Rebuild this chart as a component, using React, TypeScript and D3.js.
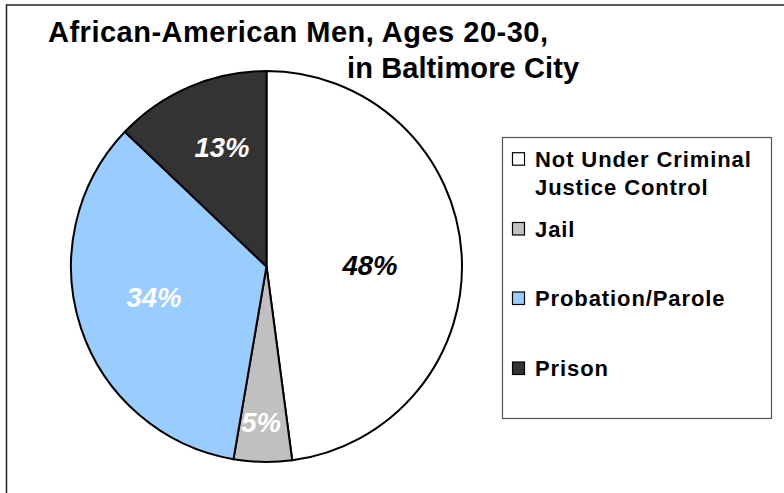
import React from "react";
import * as d3 from "d3";

const categories = ["Not Under Criminal Justice Control", "Jail", "Probation/Parole", "Prison"];
const legendLines = [["Not Under Criminal", "Justice Control"], ["Jail"], ["Probation/Parole"], ["Prison"]];
const values = [47.9, 4.8, 34.4, 12.9];
const labels = ["48%", "5%", "34%", "13%"];
const colors = ["#ffffff", "#c0c0c0", "#99ccff", "#333333"];
const labelColors = ["#000000", "#ffffff", "#ffffff", "#ffffff"];
const titleLines = ["African-American Men, Ages 20-30,", "in Baltimore City"];

export default function App() {
  const W = 784, H = 493;
  const cx = 266.5, cy = 266.5, r = 195.5;
  const pie = d3.pie<number>().sort(null).value((d) => d)(values);
  const arc = d3.arc<d3.PieArcDatum<number>>().innerRadius(0).outerRadius(r);
  const labelOffsets = [
    [370 - cx, 265 - cy],
    [261 - cx, 422 - cy],
    [154 - cx, 297 - cy],
    [222 - cx, 147 - cy],
  ];
  const legendY = [166.7, 236.5, 306, 376];
  const font = "'Liberation Sans', Arial, sans-serif";
  return (
    <svg width={W} height={H} style={{ position: "absolute", left: 0, top: 0, background: "#fff" }} fontFamily={font}>
      <rect x={0} y={0} width={W} height={H} fill="#fff" />
      <rect x={6.5} y={5} width={W + 20} height={H + 20} fill="none" stroke="#222" strokeWidth={1.5} />
      <text x={48} y={42} fontSize={29} fontWeight="bold" fill="#000" letterSpacing={0.5}>{titleLines[0]}</text>
      <text x={347} y={78} fontSize={29} fontWeight="bold" fill="#000" letterSpacing={0.1}>{titleLines[1]}</text>
      <g transform={`translate(${cx},${cy})`}>
        {pie.map((p, i) => (
          <path key={categories[i]} d={arc(p) || ""} fill={colors[i]} stroke="#000" strokeWidth={2} strokeLinejoin="round" />
        ))}
        {pie.map((p, i) => (
          <text key={labels[i]} x={labelOffsets[i][0]} y={labelOffsets[i][1]} textAnchor="middle" dominantBaseline="central" fontSize={27.5} fontWeight="bold" fontStyle="italic" fill={labelColors[i]}>
            {labels[i]}
          </text>
        ))}
      </g>
      <rect x={502.5} y={137.5} width={269} height={281} fill="#fff" stroke="#555" strokeWidth={1.2} />
      {categories.map((c, i) => (
        <g key={c}>
          <rect x={512.5} y={legendY[i] - 14} width={12} height={12.5} fill={colors[i]} stroke="#000" strokeWidth={1.2} />
          {legendLines[i].map((l, j) => (
            <text key={l} x={535} y={legendY[i] + j * 28} fontSize={22} fontWeight="bold" fill="#000" letterSpacing={0.9}>{l}</text>
          ))}
        </g>
      ))}
    </svg>
  );
}
